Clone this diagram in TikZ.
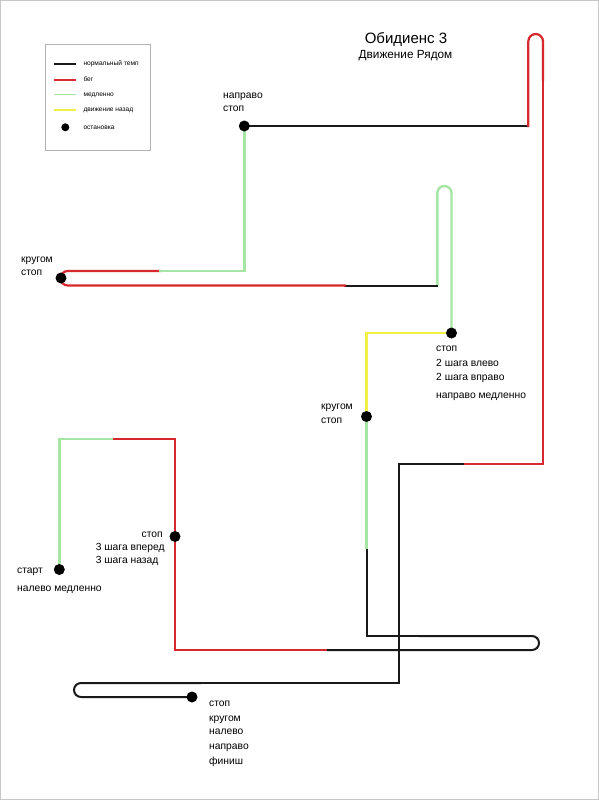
\documentclass[tikz,border=0pt]{standalone}
\usepackage{fontspec}
\setmainfont{Liberation Sans}
\definecolor{cblack}{RGB}{25,25,25}
\definecolor{cred}{RGB}{215,40,45}
\definecolor{cgreen}{RGB}{165,230,165}
\definecolor{cyellow}{RGB}{242,240,70}
\begin{document}
\begin{tikzpicture}[x=1pt,y=-1pt,
  seg/.style={line width=2.2pt, line cap=rect},
  normseg/.style={seg, draw=cblack, line width=2pt},
  runseg/.style={seg, draw=cred},
  slowseg/.style={seg, draw=cgreen, line width=2.4pt},
  backseg/.style={seg, draw=cyellow, line width=2.4pt},
  dotnode/.style={circle, fill=black, minimum size=11pt, inner sep=0pt},
  lbl/.style={font=\fontsize{10.3}{13}\selectfont, anchor=base west, inner sep=0pt},
  lblr/.style={lbl, anchor=base east},
  leglbl/.style={font=\fontsize{6.6}{8}\selectfont, anchor=base west, inner sep=0pt},
  legline/.style={line width=1.8pt}]
\useasboundingbox (0,0) rectangle (599,800);
\fill[white] (0,0) rectangle (599,800);
\draw[gray!45, line width=1pt] (0.5,0.5) rectangle (598.5,799.5);

% title
\node[font=\fontsize{15}{18}\selectfont, anchor=base, inner sep=0pt] (title) at (406,44) {Обидиенс 3};
\node[font=\fontsize{11.8}{14}\selectfont, anchor=base, inner sep=0pt] (subtitle) at (405.5,59) {Движение Рядом};

% legend
\node[draw=gray!60, line width=0.8pt, minimum width=104.6pt, minimum height=106pt, inner sep=0pt] (legend) at (98,97) {};
\draw[legline, cblack] (54,64) -- (76,64);
\draw[legline, cred] (54,80) -- (76,80);
\draw[legline, cgreen] (54,94.5) -- (76,94.5);
\draw[legline, cyellow] (54,110) -- (76,110);
\node[circle, fill=black, minimum size=8pt, inner sep=0pt] (legdot) at (65.3,127.3) {};
\node[leglbl] (l1) at (83.3,65.7) {нормальный темп};
\node[leglbl] (l2) at (83.3,81.7) {бег};
\node[leglbl] (l3) at (83.3,96.2) {медленно};
\node[leglbl] (l4) at (83.3,111.7) {движение назад};
\node[leglbl] (l5) at (83.3,129) {остановка};

% route coordinates
\coordinate (s) at (59.3,569.5);
\coordinate (c1) at (59.3,439);
\coordinate (t1) at (114.5,439);
\coordinate (c2) at (175,439);
\coordinate (p1) at (175,536.5);
\coordinate (c3) at (175,650);
\coordinate (t2) at (328,650);
\coordinate (u1a) at (539,650);
\coordinate (u1b) at (539,636);
\coordinate (m1) at (420,636);
\coordinate (c4) at (366.5,636);
\coordinate (t3) at (366.5,548);
\coordinate (p2) at (366.5,416.5);
\coordinate (c5) at (366.5,333);
\coordinate (p3) at (451.5,333);
\coordinate (u2a) at (451.5,186);
\coordinate (u2b) at (437.3,186);
\coordinate (c6) at (437.3,285.5);
\coordinate (t4) at (345,285.5);
\coordinate (u3a) at (60.5,285.5);
\coordinate (u3b) at (60.5,271);
\coordinate (k) at (61,278);
\coordinate (t5) at (160,271);
\coordinate (c7) at (244.3,271);
\coordinate (p4) at (244.3,126);
\coordinate (c8) at (528.3,126);
\coordinate (u4a) at (528.3,34);
\coordinate (u4b) at (543,34);
\coordinate (m2) at (543,80);
\coordinate (c9) at (543,464);
\coordinate (t6) at (463,464);
\coordinate (c10) at (398.5,464);
\coordinate (c11) at (398.5,683);
\coordinate (m3) at (200,683);
\coordinate (u5a) at (74,683);
\coordinate (u5b) at (74,697);
\coordinate (e) at (192,697);

% route
\draw[slowseg] (s) -- (c1) -- (t1);
\draw[runseg] (t1) -- (c2) -- (c3) -- (t2);
\draw[normseg, rounded corners=7pt] (t2) -- (u1a) -- (u1b) -- (m1);
\draw[normseg] (m1) -- (c4) -- (t3);
\draw[slowseg] (t3) -- (p2);
\draw[backseg] (p2) -- (c5) -- (p3);
\draw[slowseg, rounded corners=7.1pt] (p3) -- (u2a) -- (u2b) -- (c6);
\draw[normseg] (c6) -- (t4);
\draw[runseg, rounded corners=7.25pt] (t4) -- (u3a) -- (u3b) -- (t5);
\draw[slowseg] (t5) -- (c7) -- (p4);
\draw[normseg] (p4) -- (c8);
\draw[runseg, rounded corners=7.35pt] (c8) -- (u4a) -- (u4b) -- (m2);
\draw[runseg] (m2) -- (c9) -- (t6);
\draw[normseg] (t6) -- (c10) -- (c11) -- (m3);
\draw[normseg, rounded corners=7pt] (m3) -- (u5a) -- (u5b) -- (e);

% stops
\node[dotnode] (dstart) at (s) {};
\node[dotnode] (dp1) at (p1) {};
\node[dotnode] (dp2) at (p2) {};
\node[dotnode] (dp3) at (p3) {};
\node[dotnode] (dk) at (k) {};
\node[dotnode] (dp4) at (p4) {};
\node[dotnode] (dend) at (e) {};

% labels
\node[lbl] (a1) at (21,262.8) {кругом};
\node[lbl] (a2) at (21,275.8) {стоп};
\node[lbl] (b1) at (223,98.5) {направо};
\node[lbl] (b2) at (223,111) {стоп};
\node[lbl] (c1l) at (436,351.5) {стоп};
\node[lbl] (c2l) at (436,366.8) {2 шага влево};
\node[lbl] (c3l) at (436,380.8) {2 шага вправо};
\node[lbl] (c4l) at (436,398.8) {направо медленно};
\node[lbl] (d1) at (321,409.8) {кругом};
\node[lbl] (d2) at (321,423.5) {стоп};
\node[lblr] (f1) at (163,537.8) {стоп};
\node[lbl] (f2) at (95.7,550.8) {3 шага вперед};
\node[lbl] (f3) at (95.7,563.8) {3 шага назад};
\node[lbl] (g1) at (17,573.5) {старт};
\node[lbl] (g2) at (17,591) {налево медленно};
\node[lbl] (h1) at (209,706) {стоп};
\node[lbl] (h2) at (209,721) {кругом};
\node[lbl] (h3) at (209,734.5) {налево};
\node[lbl] (h4) at (209,749.5) {направо};
\node[lbl] (h5) at (209,764.5) {финиш};
\end{tikzpicture}
\end{document}
